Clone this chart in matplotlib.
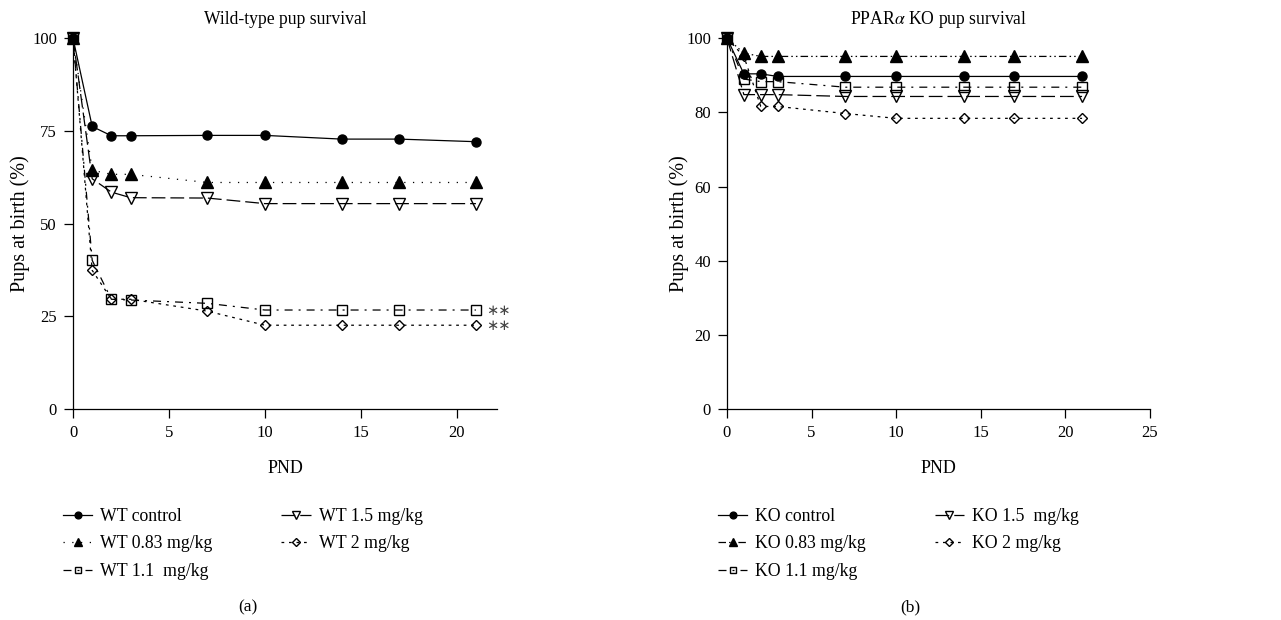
import matplotlib
matplotlib.use("Agg")
import matplotlib.pyplot as plt

plt.rcParams['font.family'] = ['Liberation Serif', 'DejaVu Serif']
plt.rcParams['mathtext.fontset'] = 'stix'

# PND days sampled
days = [0, 1, 2, 3, 7, 10, 14, 17, 21]

# Wild-type pup survival (% of pups at birth)
wt_control = [100, 76.2, 73.7, 73.7, 73.8, 73.8, 72.8, 72.8, 72.1]
wt_083 = [100, 64.4, 63.3, 63.3, 61.1, 61.1, 61.1, 61.1, 61.1]
wt_11 = [100, 40.1, 29.6, 29.4, 28.5, 26.7, 26.7, 26.7, 26.7]
wt_15 = [100, 62.1, 58.5, 57.0, 56.9, 55.4, 55.4, 55.4, 55.4]
wt_2 = [100, 37.4, 29.6, 29.6, 26.4, 22.6, 22.6, 22.6, 22.6]

# PPARa KO pup survival
ko_control = [100, 90.4, 90.4, 89.7, 89.7, 89.7, 89.7, 89.7, 89.7]
ko_083 = [100, 96.0, 95.1, 95.1, 95.1, 95.1, 95.1, 95.1, 95.1]
ko_11 = [100, 89.0, 88.3, 88.3, 86.8, 86.8, 86.8, 86.8, 86.8]
ko_15 = [100, 84.8, 84.8, 84.8, 84.3, 84.3, 84.3, 84.3, 84.3]
ko_2 = [100, 95.1, 81.6, 81.6, 79.7, 78.4, 78.4, 78.4, 78.4]

wt_labels = ["WT control", "WT 0.83 mg/kg", "WT 1.1  mg/kg", "WT 1.5 mg/kg", "WT 2 mg/kg"]
ko_labels = ["KO control", "KO 0.83 mg/kg", "KO 1.1 mg/kg", "KO 1.5  mg/kg", "KO 2 mg/kg"]

fig = plt.figure(figsize=(12.81, 6.2), dpi=100)
ax1 = fig.add_axes([0.0570, 0.3403, 0.331, 0.598])
ax2 = fig.add_axes([0.5675, 0.3403, 0.330, 0.598])

wt_styles = [
    dict(ls='-', marker='o', mfc='black', ms=6.5),
    dict(ls=(0, (1, 6)), marker='^', mfc='black', ms=8),
    dict(ls=(0, (6.4, 4.8, 1.6, 4.8)), marker='s', mfc='none', ms=6.5),
    dict(ls=(0, (11, 4)), marker='v', mfc='none', ms=8),
    dict(ls=(0, (2.2, 3.8)), marker='D', mfc='none', ms=5.5),
]
ko_styles = [
    dict(ls='-', marker='o', mfc='black', ms=6.5),
    dict(ls=(0, (6, 2.5, 1.2, 2.5, 1.2, 2.5)), marker='^', mfc='black', ms=8),
    dict(ls=(0, (6.4, 4.8, 1.6, 4.8)), marker='s', mfc='none', ms=6.5),
    dict(ls=(0, (11, 4)), marker='v', mfc='none', ms=8),
    dict(ls=(0, (2.2, 3.8)), marker='D', mfc='none', ms=5.5),
]

for series, lab, st in zip([wt_control, wt_083, wt_11, wt_15, wt_2], wt_labels, wt_styles):
    kw = dict(color='black', lw=0.9, mec='black', mew=1.0)
    kw.update(st)
    ax1.plot(days, series, label=lab, **kw)

for series, lab, st in zip([ko_control, ko_083, ko_11, ko_15, ko_2], ko_labels, ko_styles):
    kw = dict(color='black', lw=0.9, mec='black', mew=1.0)
    kw.update(st)
    ax2.plot(days, series, label=lab, **kw)

# significance marks
for v in (wt_11[-1], wt_2[-1]):
    ax1.text(21.55, v, "∗∗", ha='left', va='center', fontsize=10.5,
             family='DejaVu Sans', color='#444444')

ax1.set_xlim(0, 22.1)
ax1.set_ylim(0, 100)
ax1.set_xticks([0, 5, 10, 15, 20])
ax1.set_yticks([0, 25, 50, 75, 100])
ax1.set_title("Wild-type pup survival", fontsize=12.7, pad=10)

ax2.set_xlim(0, 25)
ax2.set_ylim(0, 100)
ax2.set_xticks([0, 5, 10, 15, 20, 25])
ax2.set_yticks([0, 20, 40, 60, 80, 100])
ax2.set_title(r"PPAR$\alpha$ KO pup survival", fontsize=12.7, pad=10)

for ax, ypad in ((ax1, 1.5), (ax2, -2)):
    ax.spines['top'].set_visible(False)
    ax.spines['right'].set_visible(False)
    ax.spines['left'].set_linewidth(0.9)
    ax.spines['bottom'].set_linewidth(0.9)
    ax.tick_params(direction='out', length=6.5, width=0.9, labelsize=12, pad=5)
    ax.set_xlabel("PND", fontsize=13, labelpad=14)
    ax.set_ylabel("Pups at birth (%)", fontsize=14.5, labelpad=ypad)
    for ln in ax.lines:
        ln.set_clip_on(False)

leg_kw = dict(loc='upper left', ncol=2, frameon=False, borderpad=0, borderaxespad=0,
              handlelength=1.65, handletextpad=0.45, columnspacing=3.85,
              labelspacing=0.6, fontsize=12.8, markerscale=0.75)
ax1.legend(bbox_to_anchor=(0.0492, 0.181), bbox_transform=fig.transFigure, **leg_kw)
ax2.legend(bbox_to_anchor=(0.5605, 0.181), bbox_transform=fig.transFigure, **leg_kw)

fig.text(0.1937, 0.020, "(a)", ha='center', va='center', fontsize=12.5)
fig.text(0.7104, 0.020, "(b)", ha='center', va='center', fontsize=12.5)

fig.savefig("out.png", dpi=100)
